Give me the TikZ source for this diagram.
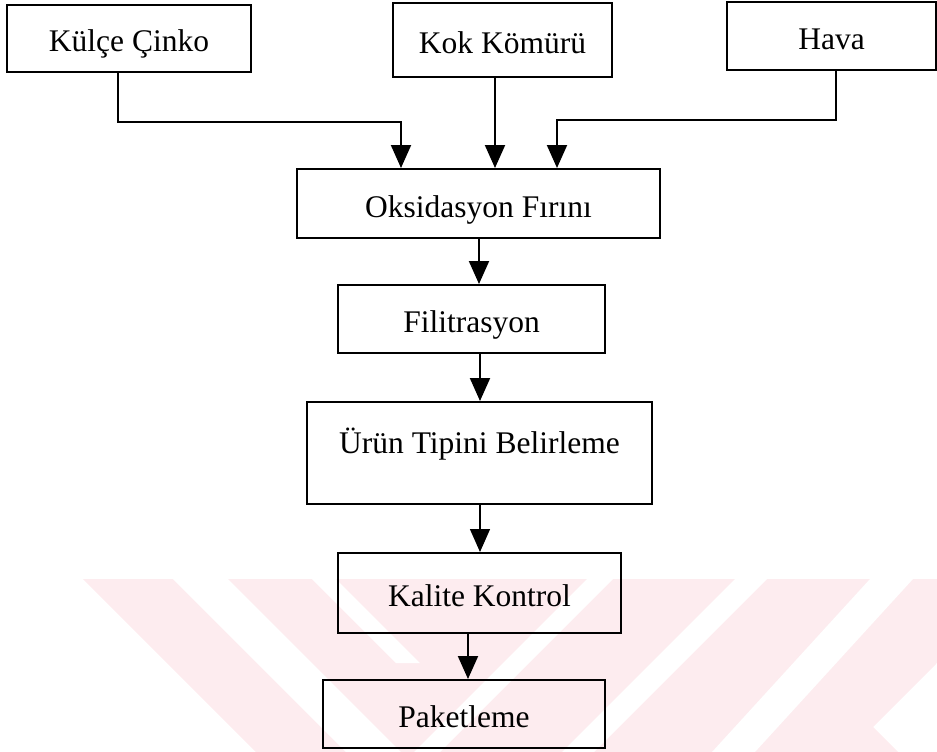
\documentclass[tikz,border=0pt]{standalone}
\usepackage{fontspec}
\setmainfont{Liberation Serif}
\usetikzlibrary{arrows.meta}
\definecolor{wmpink}{RGB}{253,236,239}
\tikzset{
  box/.style={draw, line width=2pt, rectangle, inner sep=0pt,
    font=\fontsize{31.5}{36}\selectfont, text height=33pt, text depth=6pt},
  conn/.style={line width=2pt, line join=miter},
  arr/.style={conn, -{Triangle[width=20pt,length=23pt]}},
}
\begin{document}
\begin{tikzpicture}[x=1pt,y=-1pt]
\useasboundingbox (0,0) rectangle (937,752);
% faint background watermark
\begin{scope}
  \clip (83,579) -- (937,579) -- (937,663) -- (873,727) -- (898,752) -- (256,752) -- cycle;
  \fill[wmpink] (0,579) rectangle (937,752);
  \fill[white] (173,579) -- (228,579) -- (401,752) -- (346,752) -- cycle;
  \fill[white] (312,579) -- (336,579) -- (420,663) -- (396,663) -- cycle;
  \fill[white] (587,579) -- (613,579) -- (440,752) -- (414,752) -- cycle;
  \fill[white] (735,579) -- (767,579) -- (594,752) -- (562,752) -- cycle;
  \fill[white] (870,579) -- (913,579) -- (755,752) -- (712,752) -- cycle;
\end{scope}
% boxes
\node[box, minimum width=244pt, minimum height=67pt] (k1) at (129,38.5) {Külçe Çinko};
\node[box, minimum width=219pt, minimum height=74pt] (k2) at (502.5,40) {Kok Kömürü};
\node[box, minimum width=209pt, minimum height=68pt] (k3) at (831.5,36) {Hava};
\node[box, minimum width=363pt, minimum height=69pt] (o) at (478.5,203.5) {Oksidasyon Fırını};
\node[box, minimum width=267pt, minimum height=68pt] (f) at (471.5,319) {Filitrasyon};
\node[box, minimum width=345pt, minimum height=102pt, text height=22pt, text depth=22pt] (u) at (479.5,453) {Ürün Tipini Belirleme};
\node[box, minimum width=283pt, minimum height=80pt] (kk) at (479.5,593) {Kalite Kontrol};
\node[box, minimum width=282pt, minimum height=68pt] (p) at (464,714) {Paketleme};
% connector routing points
\coordinate (j1) at (118,122);
\coordinate (t1) at (401,122);
\coordinate (t2) at (495,122);
\coordinate (j3) at (836,120);
\coordinate (t3) at (557,120);
\coordinate (c1) at (479,260);
\coordinate (c2) at (480,380);
\coordinate (c3) at (480,530);
\coordinate (c4) at (468,657);
% connectors
\draw[arr] (k1.south -| j1) -- (j1) -- (t1) -- (o.north -| t1);
\draw[arr] (k2.south -| t2) -- (o.north -| t2);
\draw[arr] (k3.south -| j3) -- (j3) -- (t3) -- (o.north -| t3);
\draw[arr] (o.south -| c1) -- (f.north -| c1);
\draw[arr] (f.south -| c2) -- (u.north -| c2);
\draw[arr, line width=1.3pt] (u.south -| c3) -- (kk.north -| c3);
\draw[arr] (kk.south -| c4) -- (p.north -| c4);
\end{tikzpicture}
\end{document}
